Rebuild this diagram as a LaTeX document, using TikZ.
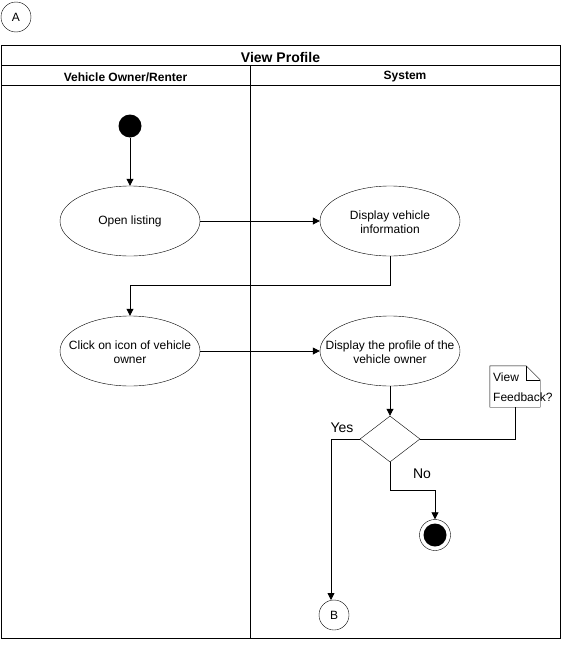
\documentclass[tikz,border=0pt]{standalone}
\usepackage{fontspec}
\setmainfont{Liberation Sans}
\usetikzlibrary{shapes.geometric,arrows.meta,positioning}
\newcommand\zwtext[1]{\smash{\raisebox{-5.5pt}{\makebox[0pt][c]{\begin{tabular}{@{}c@{}}#1\end{tabular}}}}}
\tikzset{
  act/.style={draw, ellipse, minimum width=140pt, minimum height=70pt, inner sep=0pt, font=\fontsize{12}{14}\selectfont},
  arr/.style={-{Triangle[length=7pt,width=7pt]}, line width=0.8pt},
  ln/.style={line width=0.8pt},
  lane/.style={line width=0.8pt},
  conn/.style={draw, circle, minimum size=30pt, inner sep=0pt, font=\fontsize{12}{14}\selectfont},
  lbl/.style={font=\fontsize{14}{16}\selectfont, inner sep=0pt},
}
\begin{document}
\begin{tikzpicture}[x=1pt,y=-1pt]
\useasboundingbox (0,0) rectangle (561,648);
% connector A
\node[conn] (A) at (16,17) {A};
% pool
\draw[lane] (1,45) rectangle (560,638);
\draw[lane] (1,65) -- (560,65);
\draw[lane] (1,85) -- (560,85);
\draw[lane] (250,65) -- (250,638);
\node[font=\fontsize{14}{16}\selectfont\bfseries] (title) at (280.5,57) {View Profile};
\node[font=\fontsize{12}{14}\selectfont\bfseries] (h1) at (125.5,77) {Vehicle Owner/Renter};
\node[font=\fontsize{12}{14}\selectfont\bfseries] (h2) at (405,77) {System};
% nodes
\node[circle, fill=black, minimum size=23pt, inner sep=0pt] (start) at (130,126) {};
\node[act] (open) at (130,221) {Open listing};
\node[act] (disp) at (390,221) {\zwtext{Display vehicle\\information}};
\node[act] (click) at (130,351) {\zwtext{Click on icon of vehicle\\owner}};
\node[act] (prof) at (390,351) {\zwtext{Display the profile of the\\vehicle owner}};
\node[diamond, draw, minimum width=60pt, minimum height=46pt, inner sep=0pt, aspect=1.3] (dec) at (390,439) {};
\node[circle, draw, minimum size=31pt, inner sep=0pt] (end) at (435,535) {};
\node[circle, fill=black, minimum size=23pt, inner sep=0pt] at (end.center) {};
\node[conn] (B) at (334,615) {B};
% note
\node[minimum width=50pt, minimum height=41pt, inner sep=0pt] (note) at (515,386.5) {};
\draw[fill=white] (note.north west) -- ([xshift=-14pt]note.north east) -- ([yshift=-14pt]note.north east) -- (note.south east) -- (note.south west) -- cycle;
\draw ([xshift=-14pt]note.north east) -- ([xshift=-14pt,yshift=-14pt]note.north east) -- ([yshift=-14pt]note.north east);
\node[anchor=north west, align=left, inner sep=0pt, font=\fontsize{12}{20}\selectfont] (notetxt) at (493,373) {View\\Feedback?};
% labels
\node[lbl] (yes) at (342,428) {Yes};
\node[lbl] (no) at (422,474) {No};
% edges
\draw[arr] (start) -- (open);
\draw[arr] (open) -- (disp);
\coordinate (c1) at (390,285);
\draw[arr] (disp.south) -- (c1) -| (click.north);
\draw[arr] (click) -- (prof);
\draw[arr] (prof) -- (dec);
\coordinate (c2) at (331,439);
\draw[arr] (dec.west) -- (c2) -- (331,600);
\coordinate (c3) at (390,490);
\draw[arr] (dec.south) -- (c3) -| (end.north);
\draw[ln] (dec.east) -| (note.south);
\end{tikzpicture}
\end{document}
